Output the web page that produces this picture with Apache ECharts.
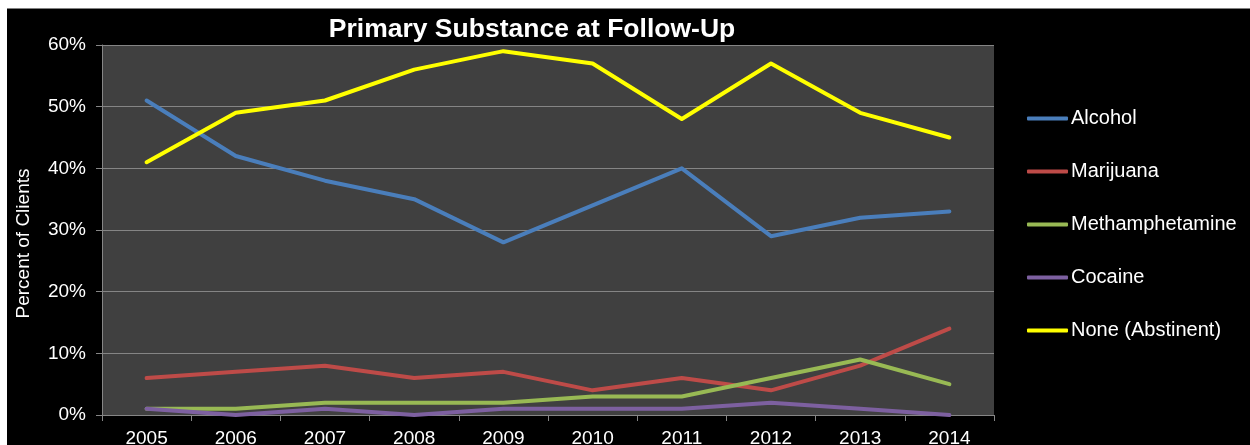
<!DOCTYPE html>
<html>
<head>
<meta charset="utf-8">
<script src="https://cdn.jsdelivr.net/npm/echarts@6/dist/echarts.min.js"></script>
<style>
  html, body { margin: 0; padding: 0; background: #ffffff; }
  #frame { position: absolute; left: 7px; top: 8px; width: 1243px; height: 437px; background: #000000; border-top: 1px solid #808080; box-sizing: border-box; }
  #chart { position: absolute; left: 0; top: 0; width: 1250px; height: 445px; }
</style>
</head>
<body>
<div id="frame"></div>
<div id="chart"></div>
<script>
// Share of clients by primary substance at follow-up, per year
const years = ['2005', '2006', '2007', '2008', '2009', '2010', '2011', '2012', '2013', '2014'];
const alcohol = [51, 42, 38, 35, 28, 34, 40, 29, 32, 33];
const marijuana = [6, 7, 8, 6, 7, 4, 6, 4, 8, 14];
const methamphetamine = [1, 1, 2, 2, 2, 3, 3, 6, 9, 5];
const cocaine = [1, 0, 1, 0, 1, 1, 1, 2, 1, 0];
const noneAbstinent = [41, 49, 51, 56, 59, 57, 48, 57, 49, 45];

const seriesNames = ['Alcohol', 'Marijuana', 'Methamphetamine', 'Cocaine', 'None (Abstinent)'];
const seriesData = [alcohol, marijuana, methamphetamine, cocaine, noneAbstinent];
const seriesColors = ['#4a7ebb', '#be4b48', '#98b954', '#7d60a0', '#ffff00'];

const font = '"Liberation Sans", Arial, sans-serif';

const chart = echarts.init(document.getElementById('chart'), null, { renderer: 'canvas' });
chart.setOption({
  backgroundColor: 'transparent',
  animation: false,
  title: {
    text: 'Primary Substance at Follow-Up',
    left: 532,
    textAlign: 'center',
    top: 16,
    padding: 0,
    textStyle: { color: '#ffffff', fontFamily: font, fontWeight: 'bold', fontSize: 26.5 }
  },
  legend: {
    orient: 'vertical',
    left: 1027,
    top: 108.5,
    padding: 0,
    itemWidth: 41,
    itemHeight: 4,
    itemGap: 33,
    icon: 'roundRect',
    textStyle: { color: '#ffffff', fontFamily: font, fontSize: 20, lineHeight: 20, padding: [0, 0, 0, -2] },
    data: seriesNames
  },
  grid: {
    left: 102, right: 256, top: 45, bottom: 30,
    outerBoundsMode: 'none',
    containLabel: false,
    show: true, backgroundColor: '#404040', borderWidth: 0
  },
  xAxis: {
    type: 'category',
    data: years,
    boundaryGap: true,
    axisLine: { show: true, lineStyle: { color: '#868686', width: 1 } },
    axisTick: { show: true, length: 6, lineStyle: { color: '#868686' } },
    axisLabel: { color: '#ffffff', fontFamily: font, fontSize: 19, margin: 14 }
  },
  yAxis: {
    type: 'value',
    min: 0, max: 60, interval: 10,
    name: 'Percent of Clients',
    nameLocation: 'middle',
    nameGap: 69,
    nameTextStyle: { color: '#ffffff', fontFamily: font, fontSize: 19, padding: [0, 27, 0, 0] },
    axisLine: { show: true, lineStyle: { color: '#868686', width: 1 } },
    axisTick: { show: true, length: 6, lineStyle: { color: '#868686' } },
    axisLabel: { color: '#ffffff', fontFamily: font, fontSize: 19, margin: 16, formatter: '{value}%' },
    splitLine: { show: true, lineStyle: { color: '#858585', width: 1 } }
  },
  series: seriesNames.map((name, i) => ({
    name: name,
    type: 'line',
    data: seriesData[i],
    symbol: 'none',
    clip: false,
    lineStyle: { color: seriesColors[i], width: 4, cap: 'round', join: 'round' },
    itemStyle: { color: seriesColors[i] }
  }))
});
</script>
</body>
</html>
